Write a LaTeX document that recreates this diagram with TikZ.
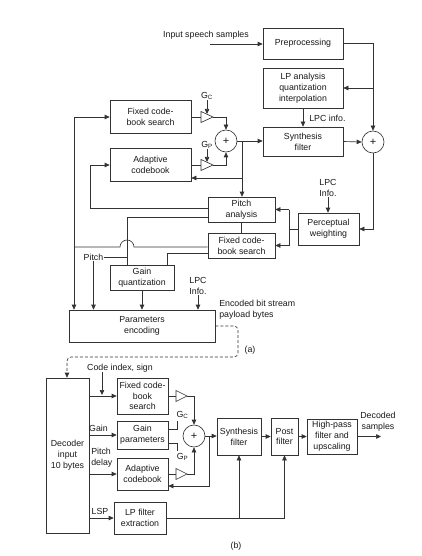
\documentclass[tikz,border=0pt]{standalone}
\usepackage{fontspec}
\setmainfont{Liberation Sans}
\usetikzlibrary{arrows.meta}
\begin{document}
\begin{tikzpicture}[x=1pt,y=-1pt,
  line width=0.65pt, color=black!80,
  every node/.style={font=\fontsize{8.8}{10.8}\selectfont, text=black!90},
  box/.style={draw, rectangle, inner sep=0pt, align=center},
  sum/.style={draw, circle, minimum size=22pt, inner sep=0pt, font=\fontsize{11}{11}\selectfont},
  lbl/.style={inner sep=0pt, align=center},
  arr/.style={-{Triangle[length=5pt,width=4.5pt]}},
  ]
\useasboundingbox (0,0) rectangle (421,556);

% ---------------- (a) encoder ----------------
\node[box, minimum width=80, minimum height=31] (pre) at (303,43.5) {Preprocessing};
\node[box, minimum width=80, minimum height=40] (lpa) at (303,88) {LP analysis\\quantization\\interpolation};
\node[box, minimum width=80, minimum height=29] (syn) at (303,141.5) {Synthesis\\filter};
\node[box, minimum width=81, minimum height=33] (fcb1) at (150.5,117) {Fixed code-\\book search};
\node[box, minimum width=81, minimum height=33] (acb1) at (150.5,165) {Adaptive\\codebook};
\node[box, minimum width=67, minimum height=25] (pit) at (241.5,209.5) {Pitch\\analysis};
\node[box, minimum width=67, minimum height=25] (fcb2) at (241.5,245.5) {Fixed code-\\book search};
\node[box, minimum width=61, minimum height=32] (pw) at (328.5,229) {Perceptual\\weighting};
\node[box, minimum width=64, minimum height=25] (gq) at (142,277.5) {Gain\\quantization};
\node[box, minimum width=146, minimum height=32] (pe) at (142,326) {Parameters\\encoding};
\node[sum] (s1) at (226,141) {+};
\node[sum] (s2) at (373,142) {+};

% gain triangles
\draw (201,111.5) -- (201,122.5) -- (213,117) -- cycle;
\draw (201,159.5) -- (201,170.5) -- (213,165) -- cycle;
\coordinate (tc1i) at (201,117); \coordinate (tc1o) at (213,117);
\coordinate (tp1i) at (201,165); \coordinate (tp1o) at (213,165);
\node[lbl] (gc1) at (207,96) {G\textsubscript{C}};
\node[lbl] (gp1) at (207,145) {G\textsubscript{P}};
\draw[arr] (gc1.south) -- (207,114);
\draw[arr] (gp1.south) -- (207,162);

% labels
\node[lbl] (intext) at (206,35) {Input speech samples};
\coordinate (in0) at (210,44);
\node[lbl, anchor=west] (lpcinfo1) at (309,118) {LPC info.};
\node[lbl] (lpc1) at (328,188) {LPC\\Info.};
\node[lbl] (lpc2) at (198,286) {LPC\\Info.};
\node[lbl] (pitchl) at (93.5,257) {Pitch};
\node[lbl, anchor=north west, align=left] (enc) at (219,299.5) {Encoded bit stream\\payload bytes};
\node[lbl] (alab) at (250,350) {(a)};

% connectors
\draw[arr] (in0) -- (in0 -| pre.west);
\draw[arr] (pre.east) -- (pre.east -| s2.north) -- (s2.north);
\draw[arr] (s2 |- lpa.east) -- (lpa.east);
\draw[arr] (lpa.south) -- (syn.north);
\draw[arr] (syn.east) -- (s2.west);
\draw[arr] (s1.east) -- (s1.east -| syn.west);
\coordinate (j3) at (242,141);
\coordinate (j4) at (242,178);
\draw[arr] (j3) -- (j3 |- pit.north);
\draw[arr] (j4) -- (j4 -| acb1.east);
\draw (fcb1.east) -- (tc1i);
\draw (acb1.east) -- (tp1i);
\draw[arr] (tc1o) -- (226,117) -- (s1.north);
\draw[arr] (tp1o) -- (226,165) -- (s1.south);
\coordinate (l1) at (74,117);
\draw[arr] (l1) -- (fcb1.west);
\draw[arr] (l1) -- (l1 |- pe.north);
\draw[arr] (pit.west |- 0,208) -- (90,208) -- (90,165) -- (acb1.west);
\draw (pit.west |- 0,217) -- (127,217) -- (127,217 |- gq.north);
\draw (fcb2.west |- 0,247) -- (134,247) arc[start angle=0,end angle=180,radius=7pt] -- (74,247);
\draw (fcb2.west |- 0,253) -- (167,253) -- (167,253 |- gq.north);
\draw (pitchl.east) -- (127,257);
\draw[arr] (pitchl.south) -- (pitchl.south |- pe.north);
\draw[arr] (gq.south) -- (gq.south |- pe.north);
\draw[arr] (lpc2.south) -- (lpc2.south |- pe.north);
\draw[arr] (s2.south) -- (s2.south |- pw.east) -- (pw.east);
\coordinate (j5) at (289,229);
\draw (pw.west) -- (j5);
\draw (j5 |- pit.east) -- (j5 |- fcb2.east);
\draw[arr] (j5 |- pit.east) -- (pit.east);
\draw[arr] (j5 |- fcb2.east) -- (fcb2.east);
\draw[arr] (lpc1.south) -- (lpc1.south |- pw.north);
\draw (pit.south) -- (fcb2.north);

% ---------------- (b) decoder ----------------
\node[box, minimum width=43, minimum height=155] (dec) at (67.5,455.5) {Decoder\\input\\10 bytes};
\node[box, minimum width=51, minimum height=36] (fcb3) at (142.5,396) {Fixed code-\\book\\search};
\node[box, minimum width=51, minimum height=28] (gp) at (142.5,435) {Gain\\parameters};
\node[box, minimum width=51, minimum height=32] (acb3) at (142.5,474) {Adaptive\\codebook};
\node[box, minimum width=52, minimum height=32] (lpf) at (140,518) {LP filter\\extraction};
\node[sum] (s3) at (194,436) {+};
\node[box, minimum width=44, minimum height=37] (syn3) at (239,436.5) {Synthesis\\filter};
\node[box, minimum width=27, minimum height=37] (post) at (284.5,436.5) {Post\\filter};
\node[box, minimum width=50, minimum height=35] (hpf) at (332,436.5) {High-pass\\filter and\\upscaling};

\draw (176,390.5) -- (176,401.5) -- (187,396) -- cycle;
\draw (176,468.5) -- (176,479.5) -- (187,474) -- cycle;
\coordinate (tc3i) at (176,396); \coordinate (tc3o) at (187,396);
\coordinate (tp3i) at (176,474); \coordinate (tp3o) at (187,474);

\node[lbl] (cis) at (120,368) {Code index, sign};
\node[lbl] (gainl) at (98.5,428) {Gain};
\node[lbl, anchor=west, align=left] (pdl) at (91,457.5) {Pitch\\delay};
\node[lbl] (lspl) at (100,511) {LSP};
\node[lbl] (gc3) at (182.5,415) {G\textsubscript{C}};
\node[lbl] (gp3) at (182.5,457) {G\textsubscript{P}};
\node[lbl] (decs) at (378,421.5) {Decoded\\samples};
\node[lbl] (blab) at (236,546) {(b)};

\draw[arr, dash pattern=on 3pt off 2pt, rounded corners=4pt] (pe.east) -- (238,326) -- (238,357) -- (67,357) -- (67,357 |- dec.north);

\coordinate (j6) at (102,395);
\draw[arr] (cis.south -| j6) -- (j6);
\draw[arr] (fcb3.west -| dec.east) -- (fcb3.west);
\draw[arr] (gp.west -| dec.east) -- (gp.west);
\draw[arr] (acb3.west -| dec.east) -- (acb3.west);
\draw[arr] (lpf.west -| dec.east) -- (lpf.west);
\draw (fcb3.east) -- (tc3i);
\draw (acb3.east) -- (tp3i);
\draw[arr] (tc3o) -- (194,396) -- (s3.north);
\draw[arr] (tp3o) -- (194,474) -- (s3.south);
\draw (gp.east |- 0,429) -- (177,429) -- (177,421);
\draw (gp.east |- 0,443) -- (177,443) -- (177,451);
\draw[arr] (s3.east) -- (s3.east -| syn3.west);
\coordinate (j7) at (209,436);
\draw[arr] (j7) -- (209,486) -- (209,486 -| acb3.east);
\draw[arr] (syn3.east) -- (post.west);
\draw[arr] (post.east) -- (hpf.west);
\coordinate (outd) at (381,436.5);
\draw[arr] (hpf.east) -- (outd);
\draw[arr] (lpf.east) -- (lpf.east -| post.south) -- (post.south);
\draw[arr] (lpf.east -| syn3.south) -- (syn3.south);
\end{tikzpicture}
\end{document}
